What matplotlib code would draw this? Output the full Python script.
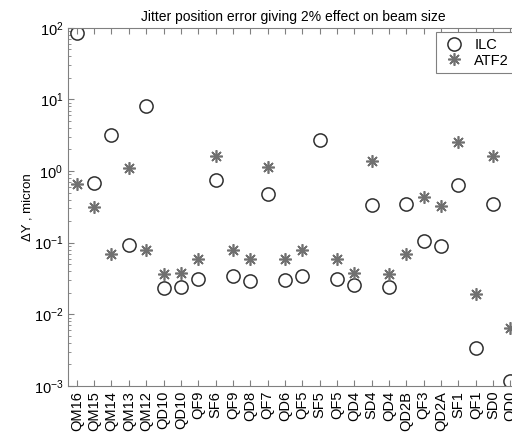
import matplotlib.pyplot as plt
import numpy as np

plt.rcParams['font.family'] = ['Liberation Sans', 'DejaVu Sans']
plt.rcParams['mathtext.fontset'] = 'custom'
plt.rcParams['mathtext.rm'] = 'Liberation Sans'
plt.rcParams['mathtext.it'] = 'Liberation Sans'

# magnet names along the beamline
magnets = ['QM16', 'QM15', 'QM14', 'QM13', 'QM12', 'QD10', 'QD10', 'QF9', 'SF6',
           'QF9', 'QD8', 'QF7', 'QD6', 'QF5', 'SF5', 'QF5', 'QD4', 'SD4', 'QD4',
           'QD2B', 'QF3', 'QD2A', 'SF1', 'QF1', 'SD0', 'QD0']

# jitter tolerance, micron
ilc = [85, 0.68, 3.2, 0.093, 8.1, 0.0236, 0.0244, 0.031, 0.75,
       0.034, 0.0296, 0.48, 0.030, 0.034, 2.73, 0.031, 0.0258, 0.337, 0.0244,
       0.348, 0.107, 0.091, 0.63, 0.00343, 0.348, 0.00117]
atf2 = [0.66, 0.31, 0.070, 1.1, 0.078, 0.0366, 0.038, 0.059, 1.63,
        0.080, 0.059, 1.13, 0.059, 0.080, np.nan, 0.059, 0.038, 1.36, 0.0366,
        0.070, 0.44, 0.33, 2.58, 0.0193, 1.63, 0.0065]

fig = plt.figure(figsize=(5.12, 4.42), dpi=100)
ax = fig.add_axes([0.133, 0.127, 0.881, 0.81])

x = np.arange(len(magnets))
ax.plot(x, ilc, linestyle='none', marker='o', markersize=9.5, markerfacecolor='none',
        markeredgecolor='#303030', markeredgewidth=1.1, label='ILC')
ax.plot(x, atf2, linestyle='none', marker=(8, 2, 0), markersize=9,
        markeredgecolor='#707070', markeredgewidth=1.2, label='ATF2')

ax.set_yscale('log')
ax.set_ylim(1e-3, 1e2)
ax.set_xlim(-0.5, len(magnets) - 0.5)
ax.set_xticks(x)
ax.set_xticklabels(magnets, rotation=90, fontsize=10.5)
ax.tick_params(axis='both', which='both', direction='in', top=True, right=True,
               color='#808080')
ax.tick_params(axis='y', labelsize=10.5)
ax.tick_params(axis='x', length=4)
ax.tick_params(axis='y', which='major', length=4)
ax.tick_params(axis='y', which='minor', length=2)
for s in ax.spines.values():
    s.set_color('#808080')

ax.set_ylabel('\u0394Y , micron', fontsize=9.5, labelpad=0)
ax.set_title('Jitter position error giving 2% effect on beam size', fontsize=10, pad=5)

leg = ax.legend(loc='upper right', fontsize=10.5, fancybox=False, edgecolor='#808080',
                framealpha=1, borderaxespad=0.3, handletextpad=0.6, labelspacing=0.1,
                handlelength=1.6)
leg.get_frame().set_linewidth(0.8)

fig.savefig('out.png', dpi=100)
